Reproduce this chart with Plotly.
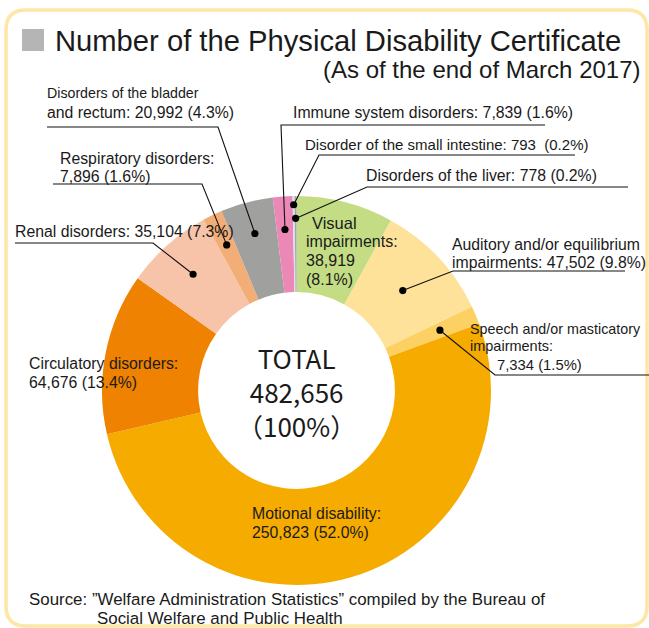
import math
import plotly.graph_objects as go

# ---------------- data ----------------
categories = [
    "Visual impairments",
    "Auditory and/or equilibrium impairments",
    "Speech and/or masticatory impairments",
    "Motional disability",
    "Circulatory disorders",
    "Renal disorders",
    "Respiratory disorders",
    "Disorders of the bladder and rectum",
    "Immune system disorders",
    "Disorder of the small intestine",
    "Disorders of the liver",
]
values = [38919, 47502, 7334, 250823, 64676, 35104, 7896, 20992, 7839, 793, 778]
percents = ["8.1%", "9.8%", "1.5%", "52.0%", "13.4%", "7.3%", "1.6%", "4.3%", "1.6%", "0.2%", "0.2%"]
colors = ["#c4dd84", "#fee299", "#fdd064", "#f6ab00", "#ef8200", "#f7c4a9",
          "#f3ae78", "#a0a09f", "#eb88b6", "#d3e4f4", "#a6a6a6"]

title_text = "Number of the Physical Disability Certificate"
subtitle_text = "(As of the end of March 2017)"
source_lines = ["Source: \u201dWelfare Administration Statistics\u201d compiled by the Bureau of",
                "Social Welfare and Public Health"]

W, H = 649, 628
CX, CY, R = 296.5, 390.5, 194.5
HOLE = 0.506
FONT = "Arial, Liberation Sans, sans-serif"
TXT = "#1a1a1a"
LBL = 15.8

total = sum(values)
fmt = [f"{v:,}" for v in values]

fig = go.Figure()

fig.add_trace(go.Pie(
    labels=categories, values=values, sort=False, direction="clockwise",
    rotation=0, hole=HOLE, textinfo="none", hoverinfo="label+value+percent",
    marker=dict(colors=colors, line=dict(width=0)),
    domain=dict(x=[(CX - R) / W, (CX + R) / W], y=[1 - (CY + R) / H, 1 - (CY - R) / H]),
    showlegend=False,
))

# invisible pixel-like axes for overlays
fig.add_trace(go.Scatter(x=[0, W], y=[0, H], mode="markers", marker=dict(opacity=0),
                         hoverinfo="skip", showlegend=False))

shapes = []
annotations = []

def ann(x, y, text, size=LBL, xanchor="left", family=FONT, color=TXT, align="left"):
    if xanchor == "left":
        x -= 2
    elif xanchor == "right":
        x += 2
    annotations.append(dict(x=x, y=y, xref="x", yref="y", text=text, showarrow=False,
                            xanchor=xanchor, yanchor="middle", align=align,
                            font=dict(family=family, size=size, color=color)))

# frame
shapes.append(dict(type="path", xref="x", yref="y",
                   path="M 26,10 L 627,10 Q 647,10 647,30 L 647,606 Q 647,626 627,626 "
                        "L 26,626 Q 6,626 6,606 L 6,30 Q 6,10 26,10 Z",
                   line=dict(color="#fde6a6", width=3.5), fillcolor="rgba(0,0,0,0)", layer="below"))
# title square
shapes.append(dict(type="rect", xref="x", yref="y", x0=22, x1=44, y0=29, y1=51,
                   fillcolor="#b5b5b5", line=dict(width=0)))
ann(55, 41, title_text, size=29.2)
ann(641, 69, subtitle_text, size=24, xanchor="right")

# slice mid angles (degrees clockwise from top)
cum = 0
mid_angle = []
for v in values:
    mid_angle.append((cum + v / 2) / total * 360)
    cum += v

def slice_point(i, rfrac):
    a = math.radians(mid_angle[i])
    return CX + R * rfrac * math.sin(a), CY - R * rfrac * math.cos(a)

# leader definitions: index -> (radius fraction, elbow, underline end)
leaders = {
    1: (0.75, (453, 271), (625, 271)),
    2: (0.80, (495, 375), (649, 375)),
    5: (0.80, (153, 243), (15, 243)),
    6: (0.83, (202, 184), (53, 184)),
    7: (0.835, (218, 127), (47, 127)),
    8: (0.83, (281, 125), (545, 125)),
    9: (0.955, (319, 155), (575, 155)),
    10: (0.885, (367, 187), (628, 187)),
}
for i, (rf, elbow, end) in leaders.items():
    px, py = slice_point(i, rf)
    shapes.append(dict(type="path", xref="x", yref="y",
                       path=f"M {px:.1f},{py:.1f} L {elbow[0]},{elbow[1]} L {end[0]},{end[1]}",
                       line=dict(color="#111", width=1.1)))
    shapes.append(dict(type="circle", xref="x", yref="y", x0=px - 3.6, x1=px + 3.6,
                       y0=py - 3.6, y1=py + 3.6, fillcolor="#000", line=dict(width=0)))

# labels
ann(47, 93, "Disorders of the bladder", size=14.2)
ann(47, 112, f"and rectum: {fmt[7]} ({percents[7]})")
ann(293, 112, f"Immune system disorders: {fmt[8]} ({percents[8]})")
ann(305, 144, f"Disorder of the small intestine: {fmt[9]}  ({percents[9]})", size=15.0)
ann(366, 175, f"Disorders of the liver: {fmt[10]} ({percents[10]})")
ann(60, 158, "Respiratory disorders:")
ann(60, 176, f"{fmt[6]} ({percents[6]})")
ann(15, 231, f"Renal disorders: {fmt[5]} ({percents[5]})")
ann(452, 244, "Auditory and/or equilibrium")
ann(452, 262, f"impairments: {fmt[1]} ({percents[1]})")
ann(470, 329, "Speech and/or masticatory", size=14.3)
ann(470, 346, "impairments:", size=14.5)
ann(497, 365, f"{fmt[2]} ({percents[2]})", size=14.8)
ann(312, 223, "Visual", size=16.5)
ann(306, 241, "impairments:", size=16)
ann(306, 260, fmt[0], size=16)
ann(306, 279, f"({percents[0]})", size=16)
ann(29, 363, "Circulatory disorders:")
ann(29, 382, f"{fmt[4]} ({percents[4]})")
ann(252, 513, "Motional disability:")
ann(252, 532, f"{fmt[3]} ({percents[3]})")

# center total
CJK = "Noto Sans CJK JP"
ann(CX, 391, f"TOTAL<br>{total:,}<br>\uff08100%\uff09", size=26, xanchor="center",
    family=CJK, align="center")

# source
ann(29, 599, source_lines[0], size=16.9)
ann(97, 618, source_lines[1], size=16.9)

fig.update_layout(
    width=W, height=H, margin=dict(l=0, r=0, t=0, b=0),
    paper_bgcolor="white", plot_bgcolor="rgba(0,0,0,0)",
    xaxis=dict(range=[0, W], visible=False, fixedrange=True, domain=[0, 1]),
    yaxis=dict(range=[H, 0], visible=False, fixedrange=True, domain=[0, 1]),
    shapes=shapes, annotations=annotations, showlegend=False,
)

fig.write_html("out.html", config={"displayModeBar": False},
               post_script="document.body.style.margin='0';document.body.style.overflow='hidden';")
